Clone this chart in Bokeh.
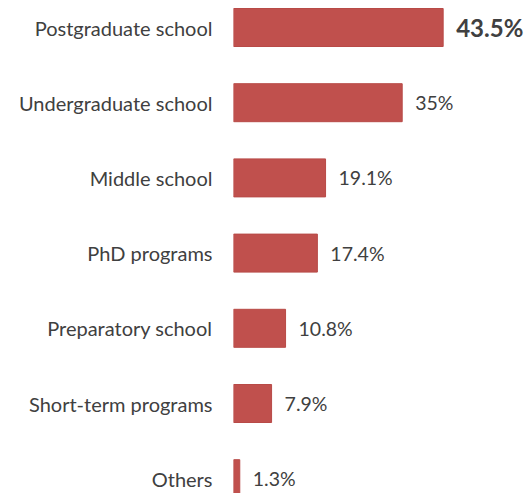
from bokeh.plotting import figure
from bokeh.models import ColumnDataSource, Range1d, FixedTicker
from bokeh.core.properties import value
from bokeh.embed import file_html
from bokeh.resources import INLINE

categories = ["Postgraduate school", "Undergraduate school", "Middle school",
              "PhD programs", "Preparatory school", "Short-term programs", "Others"]
values = [43.5, 35, 19.1, 17.4, 10.8, 7.9, 1.3]
value_labels = ["43.5%", "35%", "19.1%", "17.4%", "10.8%", "7.9%", "1.3%"]

W, H = 529, 493
left = 233
px_per_unit = 4.82
step = 75.2
first_center = 27.0

pos = list(range(len(categories)))
p = figure(width=W, height=H, output_backend="svg", toolbar_location=None,
           x_range=Range1d(0, (W - left) / px_per_unit),
           y_range=Range1d((H - first_center) / step, -first_center / step),
           min_border_left=left, min_border_right=0, min_border_top=0, min_border_bottom=0)
p.outline_line_color = None
p.background_fill_color = "white"
p.border_fill_color = "white"
p.xgrid.visible = False
p.ygrid.visible = False
p.xaxis.visible = False

src = ColumnDataSource(dict(y=pos, v=values, lab=value_labels))
p.hbar(y="y", left=0, right="v", height=38 / step, source=src,
       fill_color="#C0504D", line_color="#B84A47", line_width=1)

rest = ColumnDataSource(dict(y=pos[1:], v=values[1:], lab=value_labels[1:]))
top = ColumnDataSource(dict(y=pos[:1], v=values[:1], lab=value_labels[:1]))
p.text(x="v", y="y", text="lab", source=rest, x_offset=13, text_align="left",
       text_baseline="middle", text_font=value("Lato"), text_font_size="19.5px",
       text_color="#404040")
p.text(x="v", y="y", text="lab", source=top, x_offset=13, text_align="left",
       text_baseline="middle", text_font=value("Lato"), text_font_size="24px",
       text_font_style="bold", text_color="#404040")

ax = p.yaxis[0]
ax.ticker = FixedTicker(ticks=pos)
ax.major_label_overrides = {i: c for i, c in zip(pos, categories)}
ax.axis_line_color = None
ax.major_tick_line_color = None
ax.minor_tick_line_color = None
ax.major_tick_out = 0
ax.major_tick_in = 0
ax.major_label_standoff = 21
ax.major_label_text_font = "Lato"
ax.major_label_text_font_size = "20px"
ax.major_label_text_color = "#404040"

open("out.html", "w").write(file_html(p, INLINE))
